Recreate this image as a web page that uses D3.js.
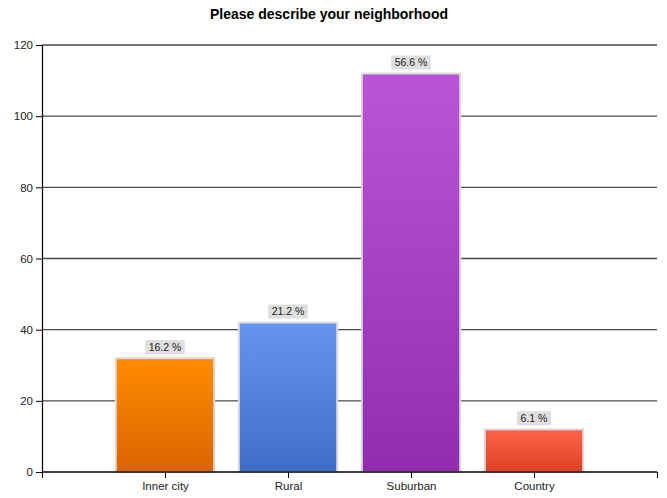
<!DOCTYPE html>
<html>
<head>
<meta charset="utf-8">
<script src="https://cdn.jsdelivr.net/npm/d3@7"></script>
<style>
  html, body { margin: 0; padding: 0; background: #fff; }
  svg { display: block; font-family: "Liberation Sans", Arial, sans-serif; }
</style>
</head>
<body>
<svg id="chart" width="667" height="498"></svg>
<script>
// Survey responses: "Please describe your neighborhood"
const categories = ["Inner city", "Rural", "Suburban", "Country"];
const counts = [32, 42, 112, 12];
const yTicks = [0, 20, 40, 60, 80, 100, 120];
const colorsTop = ["#ff8c00", "#6695ed", "#bb55d6", "#ff6347"];
const colorsBottom = ["#db6400", "#3f6ec8", "#932db0", "#dc4126"];

const total = d3.sum(counts);
const percents = counts.map(c => (c / total) * 100);

const svg = d3.select("#chart");
const x0 = 42, x1 = 657;
const yBottom = 472, yTop = 45;

// Category slots sit at positions 1..n on a 0..n+1 linear scale
const xPos = d3.scaleLinear().domain([0, categories.length + 1]).range([x0, x1]);
const step = xPos(1) - xPos(0);
const barW = step * 0.8;

const y = d3.scaleLinear().domain([0, 120]).range([yBottom, yTop]);

// Title
svg.append("text")
  .attr("x", 329).attr("y", 19)
  .attr("text-anchor", "middle")
  .attr("font-size", 14).attr("font-weight", "bold")
  .attr("fill", "#000")
  .text("Please describe your neighborhood");

// Gradients
const defs = svg.append("defs");
categories.forEach((c, i) => {
  const g = defs.append("linearGradient")
    .attr("id", "grad" + i)
    .attr("x1", 0).attr("y1", 0).attr("x2", 0).attr("y2", 1);
  g.append("stop").attr("offset", "0%").attr("stop-color", colorsTop[i]);
  g.append("stop").attr("offset", "100%").attr("stop-color", colorsBottom[i]);
});

// Horizontal gridlines
svg.append("g")
  .selectAll("line")
  .data(yTicks.filter(t => t > 0))
  .join("line")
  .attr("x1", x0).attr("x2", x1)
  .attr("y1", d => y(d)).attr("y2", d => y(d))
  .attr("stroke", "#4a4a4a").attr("stroke-width", 1.4);

// Y axis
const yAxis = d3.axisLeft(y).tickValues(yTicks).tickSize(6).tickPadding(3);
const gy = svg.append("g").attr("transform", `translate(${x0},0)`).call(yAxis);
gy.select(".domain").attr("stroke", "#000").attr("stroke-width", 1.2);
gy.selectAll(".tick line").attr("stroke", "#000");
gy.selectAll(".tick text").attr("font-size", 11.5).attr("fill", "#222")
  .attr("font-family", "\"Liberation Sans\", Arial, sans-serif");

// Bars
const bars = svg.append("g");
bars.selectAll("rect")
  .data(counts)
  .join("rect")
  .attr("x", (d, i) => xPos(i + 1) - barW / 2)
  .attr("y", d => y(d))
  .attr("width", barW)
  .attr("height", d => y(0) - y(d))
  .attr("fill", (d, i) => `url(#grad${i})`)
  .attr("stroke", "#dcdcdc").attr("stroke-width", 2);

// Value labels (percent of all responses)
const labels = svg.append("g");
percents.forEach((p, i) => {
  const cx = xPos(i + 1);
  const top = y(counts[i]);
  const txt = p.toFixed(1) + " %";
  const bw = txt.length * 5.6 + 6;
  labels.append("rect")
    .attr("x", cx - bw / 2).attr("y", top - 18)
    .attr("width", bw).attr("height", 14)
    .attr("fill", "#dedede");
  labels.append("text")
    .attr("x", cx).attr("y", top - 7.5)
    .attr("text-anchor", "middle")
    .attr("font-size", 10.5).attr("fill", "#222")
    .text(txt);
});

// X axis
const xAxis = d3.axisBottom(xPos)
  .tickValues(d3.range(0, categories.length + 2))
  .tickSize(6).tickPadding(4)
  .tickFormat(d => (d >= 1 && d <= categories.length) ? categories[d - 1] : "");
const gx = svg.append("g").attr("transform", `translate(0,${yBottom})`).call(xAxis);
gx.select(".domain").attr("stroke", "#000").attr("stroke-width", 1.5)
  .attr("d", `M${x0},0H${x1}`);
gx.selectAll(".tick line").attr("stroke", "#000");
gx.selectAll(".tick text").attr("font-size", 11.5).attr("fill", "#222")
  .attr("font-family", "\"Liberation Sans\", Arial, sans-serif");
</script>
</body>
</html>
